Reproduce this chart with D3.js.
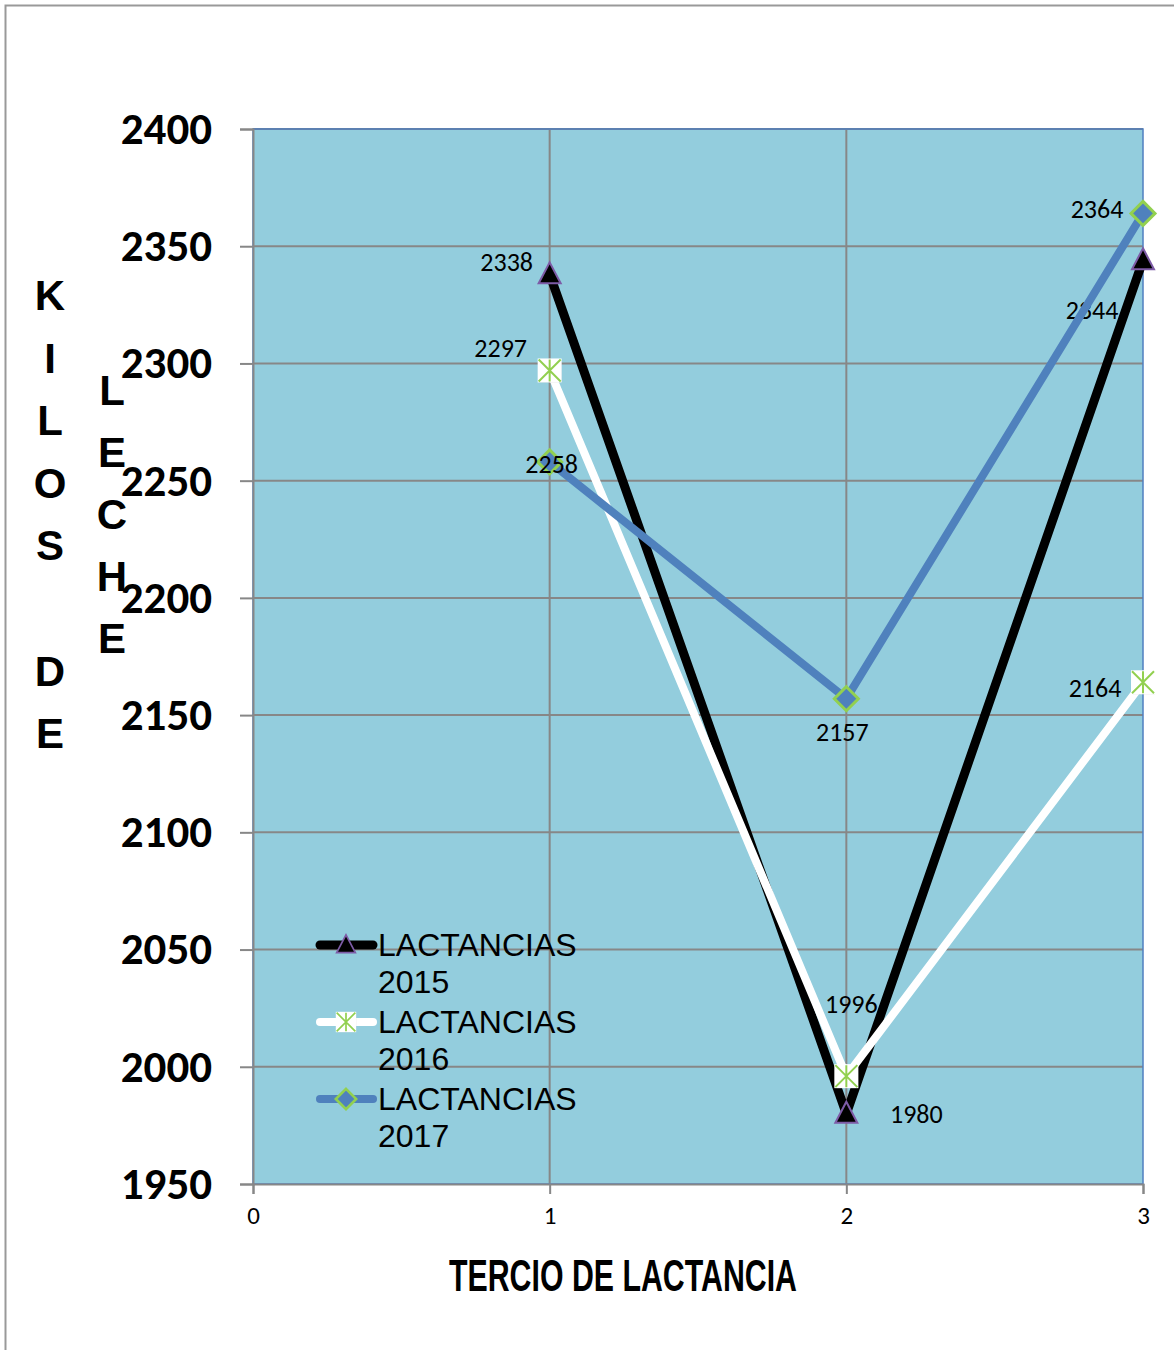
<!DOCTYPE html>
<html>

<head>
	<meta charset="utf-8">
	<script src="https://cdn.jsdelivr.net/npm/d3@7"></script>
	<style>
		body { margin: 0; background: #fff; }
		svg { display: block; }
	</style>
</head>

<body>
	<svg></svg>
	<script>
		// data
		var tercios = [1, 2, 3];
		var yTicks = [1950, 2000, 2050, 2100, 2150, 2200, 2250, 2300, 2350, 2400];
		var xTicks = [0, 1, 2, 3];
		var lact2015 = [2338, 1980, 2344];
		var lact2016 = [2297, 1996, 2164];
		var lact2017 = [2258, 2157, 2364];
		var seriesNames = ["LACTANCIAS 2015", "LACTANCIAS 2016", "LACTANCIAS 2017"];
		var yTitle1 = "KILOS DE";
		var yTitle2 = "LECHE";
		var xTitle = "TERCIO DE LACTANCIA";

		var width = 1174, height = 1350;
		var margins = { left: 253, right: 31, top: 129, bottom: 166 };
		var w = width - margins.left - margins.right;
		var h = height - margins.top - margins.bottom;

		var svg = d3.select('svg')
			.attr("width", width)
			.attr("height", height);

		// outer frame
		svg.append("rect")
			.attr("x", 5.5).attr("y", 5.5)
			.attr("width", 1300).attr("height", 1500)
			.attr("fill", "none")
			.attr("stroke", "#999").attr("stroke-width", 2);

		var x = d3.scaleLinear().domain([0, 3]).range([0, w]);
		var y = d3.scaleLinear().domain([1950, 2400]).range([h, 0]);

		var g = svg.append("g")
			.attr("transform", "translate(" + margins.left + "," + margins.top + ")");

		g.append("rect")
			.attr("width", w).attr("height", h)
			.attr("fill", "#93CDDD");

		// gridlines
		g.selectAll(".hgrid").data(yTicks.slice(1)).enter().append("line")
			.attr("x1", 0).attr("x2", w)
			.attr("y1", d => y(d)).attr("y2", d => y(d))
			.attr("stroke", "#878787").attr("stroke-width", 2);
		g.selectAll(".vgrid").data(xTicks.slice(1, 3)).enter().append("line")
			.attr("x1", d => x(d)).attr("x2", d => x(d))
			.attr("y1", 0).attr("y2", h)
			.attr("stroke", "#878787").attr("stroke-width", 2);

		// plot border
		g.append("rect")
			.attr("width", w).attr("height", h)
			.attr("fill", "none")
			.attr("stroke", "#4F7FC0").attr("stroke-width", 1.5);

		// y axis
		var yAx = g.append("g")
			.call(d3.axisLeft(y).tickValues(yTicks).tickSize(13).tickPadding(28).tickFormat(d3.format("d")));
		yAx.select(".domain").attr("stroke", "#878787").attr("stroke-width", 2);
		yAx.selectAll(".tick line").attr("stroke", "#878787").attr("stroke-width", 2);
		yAx.selectAll("text")
			.attr("font-family", "Carlito, 'Liberation Sans', Arial, sans-serif")
			.attr("font-weight", "bold").attr("font-size", 45).attr("fill", "#000");

		// x axis
		var xAx = g.append("g")
			.attr("transform", "translate(0," + h + ")")
			.call(d3.axisBottom(x).tickValues(xTicks).tickSize(10).tickPadding(12).tickFormat(d3.format("d")));
		xAx.select(".domain").attr("stroke", "#878787").attr("stroke-width", 2);
		xAx.selectAll(".tick line").attr("stroke", "#878787").attr("stroke-width", 2);
		xAx.selectAll("text")
			.attr("font-family", "Carlito, 'Open Sans', sans-serif")
			.attr("font-size", 25).attr("fill", "#000");

		// axis titles
		svg.append("text")
			.attr("x", 623).attr("y", 1291)
			.attr("text-anchor", "middle")
			.attr("font-family", "'Liberation Sans Narrow', 'Liberation Sans', Arial, sans-serif")
			.attr("font-weight", "bold").attr("font-size", 44)
			.attr("textLength", 348).attr("lengthAdjust", "spacingAndGlyphs")
			.text(xTitle);

		svg.append("g").selectAll("text").data(yTitle1.split("")).enter().append("text")
			.attr("x", 50).attr("y", (d, i) => 310 + i * 62.6)
			.attr("text-anchor", "middle")
			.attr("font-family", "'Liberation Sans', Arial, sans-serif")
			.attr("font-weight", "bold").attr("font-size", 42)
			.text(d => d);
		svg.append("g").selectAll("text").data(yTitle2.split("")).enter().append("text")
			.attr("x", 112).attr("y", (d, i) => 405 + i * 62)
			.attr("text-anchor", "middle")
			.attr("font-family", "'Liberation Sans', Arial, sans-serif")
			.attr("font-weight", "bold").attr("font-size", 42)
			.text(d => d);

		var series = [
			{ name: seriesNames[0], values: lact2015, color: "#000000", width: 9, marker: "tri" },
			{ name: seriesNames[1], values: lact2016, color: "#FFFFFF", width: 8, marker: "star" },
			{ name: seriesNames[2], values: lact2017, color: "#4F81BD", width: 8, marker: "dia" }
		];
		// label offsets (dx, dy) from the point, per series
		var labelOffsets = [
			[[-43, -3], [70, 9], [-51, 59]],
			[[-49, -13], [5, -63], [-48, 15]],
			[[2, 11], [-4, 42], [-46, 5]]
		];

		var line = d3.line().x((d, i) => x(tercios[i])).y(d => y(d));

		function drawMarker(sel, type) {
			if (type === "tri") {
				sel.append("path")
					.attr("d", "M0,-12 L11,9 L-11,9 Z")
					.attr("fill", "#000").attr("stroke", "#7D5BA6").attr("stroke-width", 2);
			} else if (type === "star") {
				sel.append("rect")
					.attr("x", -10).attr("y", -10).attr("width", 22).attr("height", 22)
					.attr("fill", "#999").attr("opacity", 0.35);
				sel.append("rect")
					.attr("x", -12).attr("y", -12).attr("width", 24).attr("height", 24)
					.attr("fill", "#fff");
				sel.append("path")
					.attr("d", "M-11,-11 L11,11 M11,-11 L-11,11 M0,-11 L0,11")
					.attr("stroke", "#92D050").attr("stroke-width", 2);
			} else {
				sel.append("path")
					.attr("d", "M0,-12 L12,0 L0,12 L-12,0 Z")
					.attr("fill", "#4F81BD").attr("stroke", "#92D050").attr("stroke-width", 3);
			}
		}

		series.forEach((s, si) => {
			var sg = g.append("g");
			sg.append("path")
				.attr("d", line(s.values))
				.attr("fill", "none")
				.attr("stroke", s.color).attr("stroke-width", s.width)
				.attr("stroke-linejoin", "round");
			sg.selectAll(".pt").data(s.values).enter().append("g")
				.attr("transform", (d, i) => "translate(" + x(tercios[i]) + "," + y(d) + ")")
				.each(function () { drawMarker(d3.select(this), s.marker); });
			sg.selectAll(".lbl").data(s.values).enter().append("text")
				.attr("x", (d, i) => x(tercios[i]) + labelOffsets[si][i][0])
				.attr("y", (d, i) => y(d) + labelOffsets[si][i][1])
				.attr("text-anchor", "middle")
				.attr("font-family", "Carlito, 'Open Sans', sans-serif")
				.attr("font-size", 26).attr("fill", "#000")
				.text(d => d);
		});

		// legend
		var legend = svg.append("g").attr("transform", "translate(318,945)");
		series.forEach((s, i) => {
			var lg = legend.append("g").attr("transform", "translate(0," + (i * 77) + ")");
			lg.append("line")
				.attr("x1", 2).attr("x2", 55)
				.attr("stroke", s.color).attr("stroke-width", s.width)
				.attr("stroke-linecap", "round");
			var m = lg.append("g").attr("transform", "translate(28,0) scale(0.85)");
			drawMarker(m, s.marker);
			var parts = s.name.split(" ");
			lg.append("text")
				.attr("x", 60).attr("y", 11)
				.attr("font-family", "'Liberation Sans', Arial, sans-serif")
				.attr("font-size", 32).attr("fill", "#000")
				.text(parts[0]);
			lg.append("text")
				.attr("x", 60).attr("y", 48)
				.attr("font-family", "'Liberation Sans', Arial, sans-serif")
				.attr("font-size", 32).attr("fill", "#000")
				.text(parts[1]);
		});
	</script>
</body>

</html>
